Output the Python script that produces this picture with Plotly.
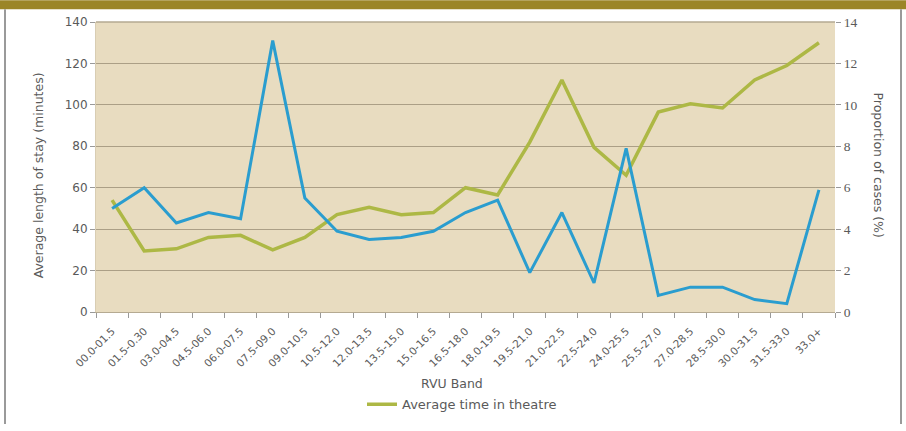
import plotly.graph_objects as go

categories = ["00.0-01.5", "01.5-0.30", "03.0-04.5", "04.5-06.0", "06.0-07.5", "07.5-09.0",
              "09.0-10.5", "10.5-12.0", "12.0-13.5", "13.5-15.0", "15.0-16.5", "16.5-18.0",
              "18.0-19.5", "19.5-21.0", "21.0-22.5", "22.5-24.0", "24.0-25.5", "25.5-27.0",
              "27.0-28.5", "28.5-30.0", "30.0-31.5", "31.5-33.0", "33.0+"]

avg_time_minutes = [54, 29.5, 30.5, 36, 37, 30, 36, 47, 50.5, 47, 48, 60, 56.5,
                    82, 112, 79.5, 66, 96.5, 100.5, 98.5, 112, 119, 130]

proportion_pct = [5.0, 6.0, 4.3, 4.8, 4.5, 13.1, 5.5, 3.9, 3.5, 3.6, 3.9, 4.8, 5.4,
                  1.9, 4.8, 1.4, 7.9, 0.8, 1.2, 1.2, 0.6, 0.4, 5.9]

left_ticks = [0, 20, 40, 60, 80, 100, 120, 140]
right_ticks = [0, 2, 4, 6, 8, 10, 12, 14]

GREEN = "#adb845"
BLUE = "#2a9dcf"
GRID = "#ab9f86"
TXT = "#5a5a5a"
FONT = "DejaVu Sans"

fig = go.Figure()
fig.add_trace(go.Scatter(x=categories, y=proportion_pct, name="Proportion of cases",
                         mode="lines", line=dict(color=BLUE, width=3), yaxis="y2",
                         showlegend=False))
fig.add_trace(go.Scatter(x=categories, y=avg_time_minutes, name="Average time in theatre",
                         mode="lines", line=dict(color=GREEN, width=3.5), yaxis="y"))

W, H = 906, 431
L, R, T, B = 96, 835, 22, 317
pw, ph = R - L, B - T

def px(x):
    return (x - L) / pw

def py(y):
    return (B - y) / ph

fig.update_layout(
    width=W, height=H,
    margin=dict(l=L, r=W - R, t=T, b=H - B, pad=0),
    paper_bgcolor="white",
    plot_bgcolor="#e8dcc0",
    font=dict(family=FONT, size=11, color=TXT),
    xaxis=dict(
        type="category", tickangle=-45, tickfont=dict(size=10.5, color=TXT),
        ticks="outside", ticklen=5, tickcolor="#999999", tickson="boundaries",
        ticklabelstandoff=8,
        showline=True, linecolor="#b5aa92", linewidth=1, showgrid=False,
        range=[-0.5, len(categories) - 0.5], zeroline=False,
    ),
    yaxis=dict(
        range=[0, 140], tickvals=left_ticks, ticks="outside", ticklen=5,
        tickcolor="#999999", showgrid=True, gridcolor=GRID, gridwidth=1,
        zeroline=False, tickfont=dict(size=12, color=TXT), showline=True,
        linecolor="#d8cdb3",
    ),
    yaxis2=dict(
        range=[0, 14], tickvals=right_ticks, overlaying="y", side="right",
        ticks="outside", ticklen=5, tickcolor="#999999", showgrid=False,
        zeroline=False, tickfont=dict(family="Liberation Serif", size=13.5, color=TXT),
    ),
    legend=dict(orientation="h", x=px(462), y=py(411), xanchor="center", yanchor="middle",
                font=dict(size=13, color=TXT), bgcolor="rgba(0,0,0,0)"),
    shapes=[
        dict(type="rect", xref="paper", yref="paper", x0=px(0), x1=px(906),
             y0=py(9), y1=py(0), fillcolor="#9b8527", line=dict(width=0), layer="above"),
        dict(type="line", xref="paper", yref="paper", x0=px(5), x1=px(5),
             y0=py(431), y1=py(9), line=dict(color="#9a9a9a", width=2)),
        dict(type="line", xref="paper", yref="paper", x0=px(901), x1=px(901),
             y0=py(431), y1=py(9), line=dict(color="#9a9a9a", width=2)),
        dict(type="line", xref="paper", yref="paper", x0=0, x1=1,
             y0=1, y1=1, line=dict(color="#b5aa92", width=1.5)),
    ],
    annotations=[
        dict(text="RVU Band", xref="paper", yref="paper", x=px(452), y=py(390),
             showarrow=False, font=dict(size=12.5, color=TXT), xanchor="center", yanchor="middle"),
        dict(text="Average length of stay (minutes)", xref="paper", yref="paper",
             x=px(38), y=py(178), showarrow=False, textangle=-90,
             font=dict(size=12.5, color=TXT), xanchor="center", yanchor="middle"),
        dict(text="Proportion of cases (%)", xref="paper", yref="paper", x=px(878), y=py(168),
             showarrow=False, textangle=90, font=dict(size=12.5, color=TXT),
             xanchor="center", yanchor="middle"),
    ],
)

fig.write_html("out.html")
